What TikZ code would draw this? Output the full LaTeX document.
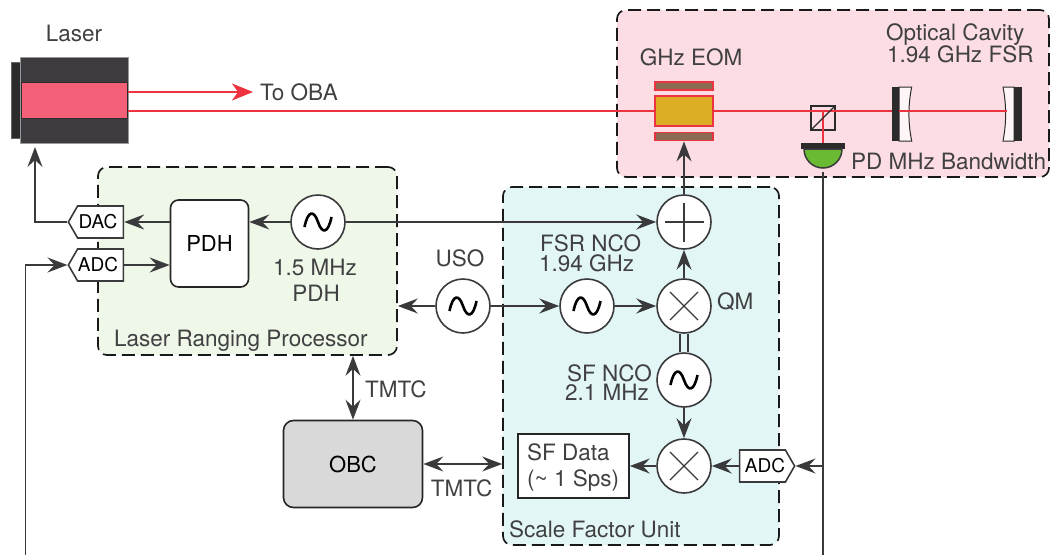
\documentclass[tikz,border=0pt]{standalone}
\usepackage{fontspec}
\setmainfont{TeX Gyre Heros}
\usetikzlibrary{arrows.meta,shapes.symbols}

\definecolor{wirecol}{HTML}{3A3A3C}
\definecolor{textcol}{HTML}{404042}
\definecolor{beamred}{HTML}{EE3340}
\definecolor{cavityfill}{HTML}{FBDDE3}
\definecolor{lrpfill}{HTML}{EFF7E8}
\definecolor{sfufill}{HTML}{E2F6F5}
\definecolor{laserbodycol}{HTML}{3D3A40}
\definecolor{laserrodcol}{HTML}{F46078}
\definecolor{darkbar}{HTML}{2B2B2B}
\definecolor{crystalcol}{HTML}{DCAD25}
\definecolor{electrodecol}{HTML}{8A6A50}
\definecolor{pdgreen}{HTML}{6ABB33}

\tikzset{
  ctip/.tip={Stealth[length=20pt,width=15pt,inset=7pt]},
  wire/.style={draw=wirecol, line width=1.6pt},
  beam/.style={draw=beamred, line width=1.4pt},
  panel/.style={draw=black!90, line width=1.7pt, dash pattern=on 13pt off 6pt, rounded corners=9pt, inner sep=0pt},
  lbl/.style={text=textcol, inner sep=0pt, font=\fontsize{22.5}{24}\selectfont},
  circ/.style={circle, draw=wirecol, line width=1.6pt, fill=white, minimum size=54pt, inner sep=0pt},
  osc/.style={circ, path picture={
    \draw[black, line width=2.6pt] ([shift={(-13.5,5)}]path picture bounding box.center)
      .. controls +(3.5,-17) and +(-4,-12) .. (path picture bounding box.center)
      .. controls +(4,12) and +(-3.5,17) .. ([shift={(13.5,-5)}]path picture bounding box.center);}},
  mixer/.style={circ, path picture={
    \draw[wirecol, line width=1.3pt] ([shift={(-14,-14)}]path picture bounding box.center) -- ([shift={(14,14)}]path picture bounding box.center);
    \draw[wirecol, line width=1.3pt] ([shift={(-14,14)}]path picture bounding box.center) -- ([shift={(14,-14)}]path picture bounding box.center);}},
  adder/.style={circ, path picture={
    \draw[wirecol, line width=1.3pt] ([shift={(-19.5,0)}]path picture bounding box.center) -- ([shift={(19.5,0)}]path picture bounding box.center);
    \draw[wirecol, line width=1.3pt] ([shift={(0,-19.5)}]path picture bounding box.center) -- ([shift={(0,19.5)}]path picture bounding box.center);}},
  conv/.style={signal, signal pointer angle=120, signal from=nowhere, draw=wirecol, line width=1.6pt, fill=white,
    minimum width=55pt, minimum height=32pt, inner sep=0pt, text=black, font=\fontsize{19}{20}\selectfont},
  eompart/.style={rectangle, draw=beamred, line width=1.8pt, minimum width=58.5pt, inner sep=0pt},
}

\begin{document}
\begin{tikzpicture}[x=1pt,y=-1pt]
\useasboundingbox (0,0) rectangle (1050,555);

% shaded regions
\node[panel, fill=cavityfill, minimum width=432pt, minimum height=167pt] (cavitypanel) at (833,93.5) {};
\node[panel, fill=lrpfill, minimum width=299pt, minimum height=188pt] (lrp) at (247.5,261) {};
\node[panel, fill=sfufill, minimum width=276pt, minimum height=358pt] (sfu) at (641,366) {};

% laser
\node[rectangle, fill=darkbar, draw=black!60, line width=0.5pt, minimum width=11pt, minimum height=76pt, inner sep=0pt] (laserplate) at (17,100) {};
\node[rectangle, fill=laserbodycol, draw=black!40, line width=0.5pt, minimum width=108pt, minimum height=86pt, inner sep=0pt] (laserbody) at (74,100) {};
\node[rectangle, fill=laserrodcol, draw=darkbar, line width=0.8pt, minimum width=106pt, minimum height=36pt, inner sep=0pt] (laserrod) at (74.5,100) {};

% cavity mirrors, back side of the beam
\draw[fill=white!70!cavityfill, draw=darkbar, line width=1pt] (899,87) -- (911.7,87) .. controls (908,105) and (908,123) .. (911.7,141) -- (899,141) -- cycle;
\draw[fill=white!70!cavityfill, draw=darkbar, line width=1pt] (1014,87) -- (1003,87) .. controls (1006.5,105) and (1006.5,123) .. (1003,141) -- (1014,141) -- cycle;

% EOM
\node[eompart, fill=electrodecol, minimum height=8.3pt] (eomtop) at (684,85.8) {};
\node[eompart, fill=crystalcol, minimum height=30.5pt] (eom) at (684,111) {};
\node[eompart, fill=electrodecol, minimum height=8pt] (eombot) at (684,136.5) {};

% beams
\node[lbl, anchor=base west, inner xsep=7pt] (tooba) at (253,100.5) {To OBA};
\coordinate (obabeam) at (253,92);
\coordinate (cavityend) at (1007,113.4);
\draw[beam, -{Stealth[length=21pt,width=17pt,inset=6pt]}, beamred] (laserrod.east |- obabeam) -- (obabeam);
\node[rectangle, minimum size=24pt, inner sep=0pt, draw=darkbar, line width=1.3pt] (splitter) at (823,118) {};
\node[rectangle, fill=darkbar, minimum width=44pt, minimum height=6.5pt, inner sep=0pt] (pdbar) at (823,146) {};
\draw[beam] (laserrod.east |- eom.west) -- (eom.west);
\draw[beam] (eom.east) -- (eom.east -| cavityend);
\draw[beam] (splitter.center |- eom) -- (pdbar.north);
\draw[darkbar, line width=1.3pt] (splitter.south west) -- (splitter.north east);
\fill[darkbar] (892,86.5) rectangle (899,141);
\fill[darkbar] (1014,86.5) rectangle (1022,141);

% photodiode
\coordinate (pdout) at (823,172);
\draw[draw=wirecol, line width=1.5pt, fill=pdgreen] (804,149) arc[start angle=180, end angle=0, radius=19] -- cycle;

% blocks
\node[rectangle, rounded corners=8pt, draw=black!85, line width=1.6pt, fill=white, minimum width=78pt, minimum height=87pt, inner sep=0pt, font=\fontsize{22}{24}\selectfont, text=black] (pdh) at (209.5,243.5) {PDH};
\node[rectangle, rounded corners=10pt, draw=black!85, line width=1.6pt, fill=black!15, minimum width=139pt, minimum height=87pt, inner sep=0pt, font=\fontsize{22}{24}\selectfont, text=black] (obc) at (353,464) {OBC};
\node[rectangle, draw=black!85, line width=1.6pt, fill=white, minimum width=111pt, minimum height=64pt, inner sep=0pt] (sfdata) at (573.5,466) {};

\node[conv, signal to=west] (dac) at (100.5,222) {\kern-5pt DAC};
\node[conv, signal to=west] (adc) at (100.5,265) {\kern-5pt ADC};
\node[conv, signal to=east] (sfadc) at (762.5,466) {\kern5pt ADC};

\node[osc] (oscpdh) at (318,222) {};
\node[osc] (uso) at (463,306) {};
\node[osc] (fsrnco) at (587,306) {};
\node[osc] (sfnco) at (684,380) {};
\node[adder] (sum) at (684,222) {};
\node[mixer] (qm) at (684,306) {};
\node[mixer] (sfmix) at (684,466) {};

% signal paths
\coordinate (adcin) at (25.5,555);
\draw[wire, -ctip] (dac.west) -| (35,147);
\draw[wire, -ctip] (adcin) |- (adc.west);
\draw[wire, -ctip] (pdh.west |- dac) -- (dac.east);
\draw[wire, -ctip] (adc.east) -- (pdh.west |- adc);
\draw[wire, -ctip] (oscpdh) -- (pdh.east |- oscpdh);
\draw[wire, -ctip] (oscpdh) -- (sum);
\draw[wire, -ctip] (sum) -- (eombot);
\draw[wire, -ctip] (qm) -- (sum);
\draw[wire, -ctip] (uso) -- (uso -| lrp.east);
\draw[wire, -ctip] (uso) -- (fsrnco);
\draw[wire, -ctip] (fsrnco) -- (qm);
\draw[draw=wirecol, line width=1.5pt, double=sfufill, double distance=6.5pt] (qm) -- (sfnco);
\draw[wire, -ctip] (sfnco) -- (sfmix);
\draw[wire, -ctip] (sfmix) -- (sfdata);
\draw[wire, -ctip] (sfadc) -- (sfmix);
\draw[wire] (pdout) -- (pdout |- adcin);
\draw[wire, -ctip] (pdout |- sfadc) -- (sfadc.east);
\draw[wire, ctip-ctip] (obc.north) -- (obc |- lrp.south);
\draw[wire, ctip-ctip] (obc.east) -- (obc -| sfu.west);

% labels
\node[lbl, anchor=base] (laserlbl) at (74,41.5) {Laser};
\node[lbl, anchor=base] (eomlbl) at (691,65) {GHz EOM};
\node[lbl, anchor=base west] (cavitylbl) at (886,40.5) {Optical Cavity};
\node[lbl, anchor=base west] (fsrlbl) at (887,62) {1.94 GHz FSR};
\node[lbl, anchor=base west] (pdlbl) at (851,169) {PD MHz Bandwidth};
\node[lbl, anchor=base] (oscfreq) at (315,275) {1.5 MHz};
\node[lbl, anchor=base] (oscname) at (316,301.5) {PDH};
\node[lbl, anchor=base west] (lrplbl) at (114,346.5) {Laser Ranging Processor};
\node[lbl, anchor=base] (usolbl) at (460,266.5) {USO};
\node[lbl, anchor=base west] (fsrname) at (540,251.5) {FSR NCO};
\node[lbl, anchor=base west] (fsrfreq) at (539,271) {1.94 GHz};
\node[lbl, anchor=base west] (qmlbl) at (717,309.5) {QM};
\node[lbl, anchor=base east] (sfname) at (652,381.5) {SF NCO};
\node[lbl, anchor=base east] (sffreq) at (649,400.5) {2.1 MHz};
\node[lbl, anchor=base west] (sfdatalbl) at (527,460) {SF Data};
\node[lbl, anchor=base west] (sfratelbl) at (527,486.5) {(\textasciitilde\ 1 Sps)};
\node[lbl, anchor=base west] (sfulbl) at (509,537.5) {Scale Factor Unit};
\node[lbl, anchor=base west] (tmtcup) at (365,397) {TMTC};
\node[lbl, anchor=base] (tmtcdown) at (461.5,496) {TMTC};
\end{tikzpicture}
\end{document}
